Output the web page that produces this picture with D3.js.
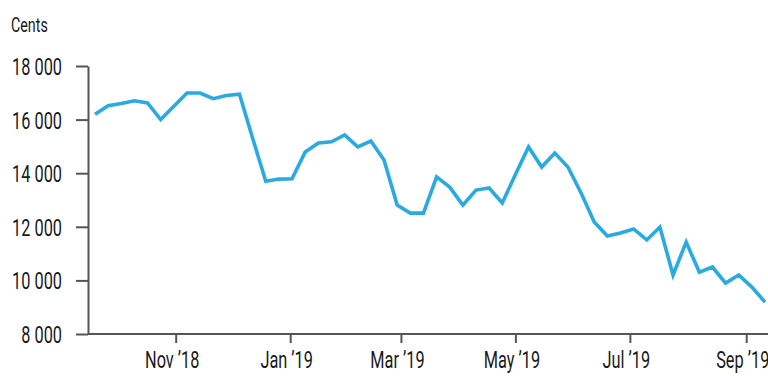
<!DOCTYPE html>
<html>
<head>
<meta charset="utf-8">
<script src="https://cdn.jsdelivr.net/npm/d3@7"></script>
<style>
  body { margin: 0; background: #fff; }
  text { font-family: "Roboto", "Liberation Sans", sans-serif; fill: #1a1a1a; }
</style>
</head>
<body>
<svg id="chart"></svg>
<script>
let size = {width: 768, height: 376};
const squeeze = 0.68  // condensed look, no condensed font installed

// weekly price, cents
const dates = [
  '2018-09-19', '2018-09-26', '2018-10-03', '2018-10-10', '2018-10-17', '2018-10-24', '2018-10-31',
  '2018-11-07', '2018-11-14', '2018-11-21', '2018-11-28', '2018-12-05', '2018-12-12', '2018-12-19',
  '2018-12-26', '2019-01-02', '2019-01-09', '2019-01-16', '2019-01-23', '2019-01-30', '2019-02-06',
  '2019-02-13', '2019-02-20', '2019-02-27', '2019-03-06', '2019-03-13', '2019-03-20', '2019-03-27',
  '2019-04-03', '2019-04-10', '2019-04-17', '2019-04-24', '2019-05-01', '2019-05-08', '2019-05-15',
  '2019-05-22', '2019-05-29', '2019-06-05', '2019-06-12', '2019-06-19', '2019-06-26', '2019-07-03',
  '2019-07-10', '2019-07-17', '2019-07-24', '2019-07-31', '2019-08-07', '2019-08-14', '2019-08-21',
  '2019-08-28', '2019-09-04', '2019-09-11'
]
const cents = [
  16200, 16520, 16600, 16700, 16620, 16000, 16500,
  16990, 16990, 16780, 16900, 16950, 15300, 13700,
  13780, 13790, 14790, 15130, 15170, 15430, 14980,
  15200, 14490, 12810, 12510, 12510, 13860, 13480,
  12810, 13370, 13450, 12890, 13950, 14980, 14230,
  14750, 14230, 13260, 12180, 11660, 11770, 11920,
  11510, 11990, 10200, 11430, 10310, 10500, 9900,
  10200, 9750, 9190
]

const yTicks = [8000, 10000, 12000, 14000, 16000, 18000]
const xTickDates = ['2018-11-01', '2019-01-01', '2019-03-01', '2019-05-01', '2019-07-01', '2019-09-01']
const xTickLabels = ['Nov ’18', 'Jan ’19', 'Mar ’19', 'May ’19', 'Jul ’19', 'Sep ’19']
const unitLabel = 'Cents'

const parse = d3.timeParse('%Y-%m-%d')
const data = dates.map((d, i) => ({date: parse(d), value: cents[i]}))

const svg = d3.select('#chart')
    .attr('width', size.width)
    .attr('height', size.height)

const axisX = 88
const xScale = d3.scaleTime()
    .domain(d3.extent(data, d => d.date))
    .range([95, 765])

const yScale = d3.scaleLinear()
    .domain([8000, 18000])
    .range([334, 66])

const fmt = d3.formatLocale({thousands: ' ', grouping: [3], decimal: '.', currency: ['', '']}).format(',')

// y axis
const yAxis = d3.axisLeft(yScale)
    .tickValues(yTicks)
    .tickSize(12)
    .tickSizeOuter(0)
    .tickFormat(fmt)

const yAxisG = svg.append('g')
    .attr('transform', `translate(${axisX},0)`)
    .call(yAxis)

yAxisG.selectAll('.tick text')
    .attr('x', null)
    .attr('dy', null)
    .attr('transform', `translate(-26,8.5) scale(${squeeze},1)`)

// x axis
const xAxis = d3.axisBottom(xScale)
    .tickValues(xTickDates.map(parse))
    .tickSize(9)
    .tickSizeOuter(0)
    .tickFormat((d, i) => xTickLabels[i])

const xAxisG = svg.append('g')
    .attr('transform', `translate(0,${yScale(8000)})`)
    .call(xAxis)
xAxisG.select('.domain').remove()
xAxisG.append('line')
    .attr('x1', axisX)
    .attr('x2', size.width)
    .attr('stroke', '#555')
    .attr('stroke-width', 2)

xAxisG.selectAll('.tick text')
    .attr('y', null)
    .attr('dy', null)
    .attr('transform', `translate(-4,34) scale(${squeeze},1)`)

svg.selectAll('.domain, .tick line')
    .attr('stroke', '#555')
    .attr('stroke-width', 2)
svg.selectAll('.tick text')
    .attr('font-size', '24px')
    .attr('fill', '#1a1a1a')

svg.append('text')
    .attr('transform', `translate(11,32) scale(${squeeze},1)`)
    .attr('font-size', '21px')
    .text(unitLabel)

// line
const line = d3.line()
    .x(d => xScale(d.date))
    .y(d => yScale(d.value))

svg.append('path')
    .datum(data)
    .attr('fill', 'none')
    .attr('stroke', '#29abe2')
    .attr('stroke-width', 3.6)
    .attr('d', line)
</script>
</body>
</html>
